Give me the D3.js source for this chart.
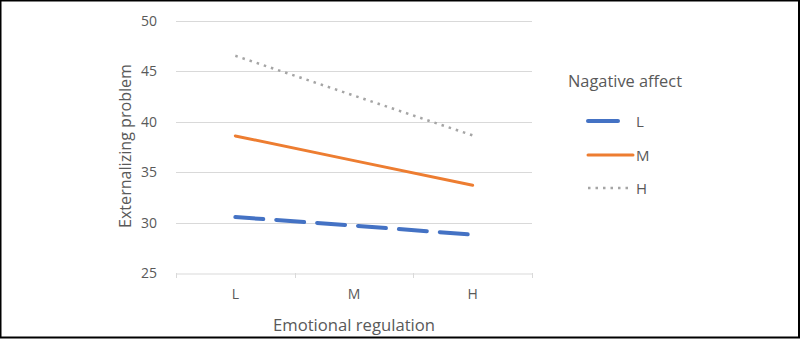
<!DOCTYPE html>
<html><head><meta charset="utf-8">
<script src="https://cdn.jsdelivr.net/npm/d3@7"></script>
<style>body{margin:0;background:#fff}svg{display:block}</style>
</head><body><svg id="c" width="800" height="339"></svg>
<script>
const categories = ["L","M","H"];
const seriesNames = ["L","M","H"];
const valuesL = [30.55, 29.7, 28.8];
const valuesM = [38.6, 36.15, 33.7];
const valuesH = [46.55, 42.6, 38.65];
const yTicks = [25,30,35,40,45,50];
const legendTitle = "Nagative affect";
const xTitle = "Emotional regulation";
const yTitle = "Externalizing problem";

(function(){
const svg = d3.select("#c");
const font = "'Open Sans', sans-serif";
const textCol = "#595959";
const pLeft = 176, pRight = 532, pTop = 21, pBottom = 273;

svg.append("rect").attr("x",0.5).attr("y",0.5).attr("width",798.5).attr("height",337).attr("fill","#fff").attr("stroke","#000").attr("stroke-width",2);

const x = d3.scaleBand().domain(categories).range([pLeft,pRight]);
const y = d3.scaleLinear().domain([25,50]).range([pBottom,pTop]);

svg.append("g").selectAll("line").data(yTicks.filter(t=>t>25)).join("line")
  .attr("x1",pLeft).attr("x2",pRight).attr("y1",d=>Math.round(y(d))+0.5).attr("y2",d=>Math.round(y(d))+0.5)
  .attr("stroke","#d9d9d9").attr("stroke-width",1);

const ya = svg.append("g").attr("transform",`translate(${pLeft},0)`)
  .call(d3.axisLeft(y).tickValues(yTicks).tickSize(0).tickPadding(19));
ya.select(".domain").remove();
ya.selectAll("text").attr("fill",textCol).style("font-family",font).style("font-size","14px");

const xa = svg.append("g").attr("transform",`translate(0,${pBottom+0.5})`)
  .call(d3.axisBottom(x).tickSize(0).tickPadding(16));
xa.select(".domain").attr("stroke","#d9d9d9");
xa.selectAll("text").attr("fill",textCol).style("font-family",font).style("font-size","14px");
const bounds = [pLeft, ...categories.map(c=>x(c)+x.bandwidth())];
svg.append("g").selectAll("line").data(bounds).join("line")
  .attr("x1",d=>Math.round(d)+0.5).attr("x2",d=>Math.round(d)+0.5).attr("y1",pBottom).attr("y2",pBottom+5)
  .attr("stroke","#d9d9d9");

const series = [
  {name:seriesNames[0], vals:valuesL, color:"#4472c4", width:4, dash:"28,13"},
  {name:seriesNames[1], vals:valuesM, color:"#ed7d31", width:3, dash:null},
  {name:seriesNames[2], vals:valuesH, color:"#a5a5a5", width:2.5, dash:"2.5,5"}
];
const line = d3.line().x((d,i)=>x(categories[i])+x.bandwidth()/2).y(d=>y(d));
series.forEach(s=>{
  svg.append("path").attr("d",line(s.vals)).attr("fill","none")
    .attr("stroke",s.color).attr("stroke-width",s.width)
    .attr("stroke-linecap", s.dash && s.width<3 ? "butt":"round")
    .attr("stroke-dasharray",s.dash);
});

svg.append("text").attr("x",(pLeft+pRight)/2).attr("y",331).attr("text-anchor","middle")
  .attr("textLength",162).attr("lengthAdjust","spacingAndGlyphs")
  .attr("fill",textCol).style("font-family",font).style("font-size","15.5px").text(xTitle);
svg.append("text").attr("transform","translate(131,146) rotate(-90)").attr("text-anchor","middle")
  .attr("textLength",164).attr("lengthAdjust","spacingAndGlyphs")
  .attr("fill",textCol).style("font-family",font).style("font-size","15.5px").text(yTitle);

svg.append("text").attr("x",568).attr("y",87).attr("fill",textCol)
  .attr("textLength",114).attr("lengthAdjust","spacingAndGlyphs")
  .style("font-family",font).style("font-size","15.5px").text(legendTitle);
const ly = [121,155,188];
series.forEach((s,i)=>{
  const len = i===0 ? 30 : 45;
  svg.append("line").attr("x1",588).attr("x2",588+len).attr("y1",ly[i]).attr("y2",ly[i])
    .attr("stroke",s.color).attr("stroke-width",s.width)
    .attr("stroke-linecap", i===2 ? "butt":"round")
    .attr("stroke-dasharray", i===2 ? s.dash : null);
  svg.append("text").attr("x",636).attr("y",ly[i]+5.5).attr("fill",textCol)
    .style("font-family",font).style("font-size","15px").text(s.name);
});
})();
</script></body></html>
